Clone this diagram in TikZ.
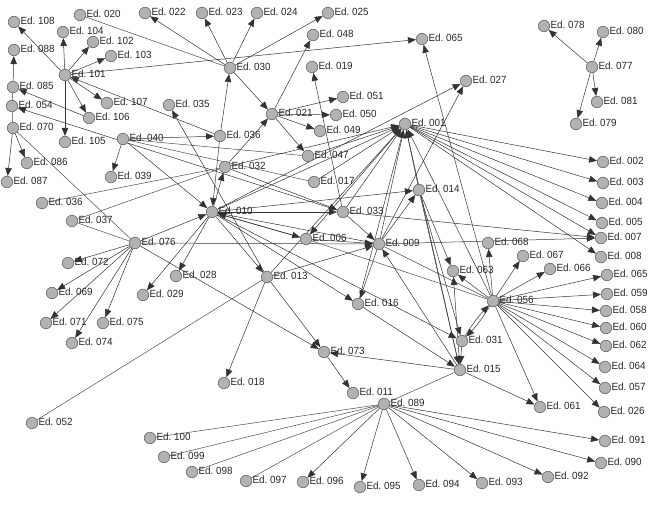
\documentclass[tikz,border=0pt]{standalone}
\usepackage{fontspec}
\setmainfont{Liberation Sans}
\newfontfamily\edfont[FakeStretch=0.95]{Liberation Sans}
\usetikzlibrary{arrows.meta,backgrounds}
\tikzset{
  ed/.style={circle, draw=black!60, fill=black!30, minimum size=11.5pt, inner sep=0pt, line width=0.6pt},
  lbl/.style={font=\edfont\fontsize{10.4}{11}\selectfont, text=black!85, inner sep=0.3pt, yshift=1.5pt},
  arr/.style={-{Triangle[length=8pt,width=6.5pt]}, line width=0.5pt, draw=black!80},
  ln/.style={line width=0.5pt, draw=black!70},
}
\newcommand\Ed[4]{\node[ed,label={[lbl]0:Ed.~#2}] (n#1) at (#3,#4) {};}
\newcommand\EA[2]{\draw[arr] (n#1) -- (n#2);}
\newcommand\EL[2]{\draw[ln] (n#1) -- (n#2);}
\begin{document}
\begin{tikzpicture}[x=1pt,y=-1pt]
\useasboundingbox (0,0) rectangle (658,513);
% nodes
\Ed{001}{001}{405}{124}
\Ed{002}{002}{603}{162}
\Ed{003}{003}{603}{183}
\Ed{004}{004}{602}{203}
\Ed{005}{005}{602}{223}
\Ed{006}{006}{306}{239}
\Ed{007}{007}{601}{238}
\Ed{008}{008}{601}{257}
\Ed{009}{009}{379}{244}
\Ed{010}{010}{212}{212}
\Ed{011}{011}{353}{393}
\Ed{013}{013}{267}{277}
\Ed{014}{014}{419}{190}
\Ed{015}{015}{460}{370}
\Ed{016}{016}{358}{304}
\Ed{017}{017}{314}{182}
\Ed{018}{018}{224}{383}
\Ed{019}{019}{312}{67}
\Ed{020}{020}{80}{15}
\Ed{021}{021}{272}{114}
\Ed{022}{022}{145}{13}
\Ed{023}{023}{202}{13}
\Ed{024}{024}{257}{13}
\Ed{025}{025}{328}{13}
\Ed{026}{026}{604}{412}
\Ed{027}{027}{466}{81}
\Ed{028}{028}{176}{276}
\Ed{029}{029}{143}{295}
\Ed{030}{030}{230}{68}
\Ed{031}{031}{462}{341}
\Ed{032}{032}{225}{167}
\Ed{033}{033}{343}{212}
\Ed{035}{035}{169}{105}
\Ed{036}{036}{220}{136}
\Ed{038}{036}{42}{203}
\Ed{037}{037}{72}{221}
\Ed{039}{039}{111}{177}
\Ed{040}{040}{123}{139}
\Ed{047}{047}{308}{156}
\Ed{048}{048}{313}{35}
\Ed{049}{049}{320}{131}
\Ed{050}{050}{336}{115}
\Ed{051}{051}{343}{97}
\Ed{052}{052}{32}{423}
\Ed{054}{054}{12}{106}
\Ed{056}{056}{493}{301}
\Ed{057}{057}{605}{388}
\Ed{058}{058}{606}{311}
\Ed{059}{059}{607}{294}
\Ed{060}{060}{606}{328}
\Ed{061}{061}{540}{407}
\Ed{062}{062}{606}{346}
\Ed{063}{063}{453}{271}
\Ed{064}{064}{605}{367}
\Ed{065}{065}{422}{39}
\Ed{165}{065}{607}{275}
\Ed{066}{066}{550}{269}
\Ed{067}{067}{523}{256}
\Ed{068}{068}{488}{243}
\Ed{069}{069}{52}{293}
\Ed{070}{070}{13}{128}
\Ed{071}{071}{46}{323}
\Ed{072}{072}{68}{263}
\Ed{073}{073}{324}{352}
\Ed{074}{074}{72}{343}
\Ed{075}{075}{103}{323}
\Ed{076}{076}{135}{243}
\Ed{077}{077}{592}{67}
\Ed{078}{078}{544}{26}
\Ed{079}{079}{576}{124}
\Ed{080}{080}{603}{32}
\Ed{081}{081}{597}{102}
\Ed{085}{085}{13}{87}
\Ed{086}{086}{27}{163}
\Ed{087}{087}{7}{182}
\Ed{088}{088}{14}{50}
\Ed{089}{089}{384}{404}
\Ed{090}{090}{601}{463}
\Ed{091}{091}{605}{441}
\Ed{092}{092}{548}{477}
\Ed{093}{093}{482}{483}
\Ed{094}{094}{419}{485}
\Ed{095}{095}{360}{487}
\Ed{096}{096}{303}{482}
\Ed{097}{097}{246}{481}
\Ed{098}{098}{192}{472}
\Ed{099}{099}{164}{457}
\Ed{100}{100}{150}{438}
\Ed{101}{101}{65}{75}
\Ed{102}{102}{93}{42}
\Ed{103}{103}{111}{56}
\Ed{104}{104}{63}{32}
\Ed{105}{105}{65}{142}
\Ed{106}{106}{89}{118}
\Ed{107}{107}{107}{103}
\Ed{108}{108}{14}{22}
\begin{scope}[on background layer]
% top-left cluster
\EA{101}{104}\EA{101}{102}\EA{101}{103}\EA{101}{105}\EA{101}{106}\EA{101}{107}
\EA{101}{108}\EA{101}{065}\EA{036}{101}\EA{085}{088}\EA{106}{085}
\EL{085}{054}\EL{054}{070}\EA{070}{087}\EA{070}{086}\EL{070}{076}
\EL{020}{030}\EA{033}{054}
\EA{040}{036}\EA{040}{010}\EA{040}{039}\EL{040}{047}\EL{040}{017}
% centre
\EA{030}{022}\EA{030}{023}\EA{030}{024}\EA{030}{025}\EA{036}{030}\EA{030}{021}
\EA{021}{048}\EA{021}{047}\EA{021}{049}\EA{021}{050}\EA{021}{051}\EA{032}{021}
\EA{036}{010}\EA{010}{032}\EA{033}{019}\EL{038}{032}\EL{037}{032}\EL{037}{076}
\EA{076}{010}\EA{076}{072}\EA{076}{069}\EA{076}{071}\EA{076}{074}\EA{076}{075}
\EA{076}{073}\EA{076}{009}
\EA{010}{028}\EA{010}{029}\EA{010}{006}\EA{010}{016}\EA{010}{013}\EA{010}{033}
\EA{010}{014}\EA{010}{001}\EA{010}{027}\EA{010}{031}
\EA{013}{073}\EA{013}{018}\EA{013}{001}\EL{052}{013}\EA{013}{035}\EA{013}{009}
\EA{009}{014}\EA{009}{016}\EA{009}{001}\EA{009}{027}\EA{009}{007}\EL{009}{056}\EA{009}{010}
\EA{006}{009}\EL{006}{056}\EA{001}{006}\EA{006}{010}
\EA{033}{009}\EA{033}{001}\EA{033}{007}\EA{032}{033}\EA{032}{001}
\EA{017}{001}\EA{047}{001}
\EA{016}{015}\EA{015}{073}\EL{015}{089}\EA{015}{061}\EA{015}{063}\EA{015}{001}\EA{015}{009}
\EA{031}{015}\EA{016}{001}
\EA{014}{063}\EA{014}{031}\EA{014}{015}\EA{014}{001}
% right fan of 001
\EA{001}{002}\EA{001}{003}\EA{001}{004}\EA{001}{005}\EA{001}{007}\EA{001}{008}
% fan of 056
\EA{056}{065}\EA{056}{165}\EA{056}{066}\EA{056}{067}\EA{056}{068}\EA{056}{059}
\EA{056}{058}\EA{056}{060}\EA{056}{062}\EA{056}{064}\EA{056}{057}\EA{056}{026}
\EA{056}{061}\EA{056}{063}\EA{056}{001}
\draw[arr] (n031) to[bend left=6] (n056);
\draw[arr] (n056) to[bend left=6] (n031);
\EA{073}{011}
% fan of 089
\EA{089}{091}\EA{089}{090}\EA{089}{092}\EA{089}{093}\EA{089}{094}\EA{089}{095}\EA{089}{096}
\EL{089}{097}\EL{089}{098}\EL{089}{099}\EL{089}{100}
% 077 group
\EA{077}{078}\EA{077}{080}\EA{077}{081}\EA{077}{079}
\end{scope}
\end{tikzpicture}
\end{document}
